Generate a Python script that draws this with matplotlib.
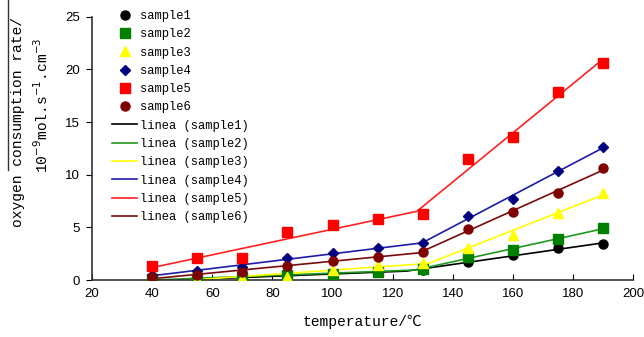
import matplotlib
matplotlib.use("Agg")
import matplotlib.pyplot as plt
from matplotlib.lines import Line2D
import numpy as np

# temperature (deg C) and oxygen consumption rate (1e-9 mol/s/cm3)
temps = [40, 55, 70, 85, 100, 115, 130, 145, 160, 175, 190]
sample1 = [0.05, 0.05, 0.1, 0.3, 0.6, 0.8, 0.95, 1.75, 2.4, 3.0, 3.4]
sample2 = [0.1, 0.1, 0.3, 0.5, 0.6, 0.8, 1.05, 2.2, 2.9, 3.9, 4.9]
sample3 = [0.0, 0.0, 0.2, 0.3, 1.0, 1.4, 1.6, 3.0, 4.3, 6.4, 8.3]
sample4 = [0.5, 0.9, 1.2, 2.1, 2.6, 3.0, 3.5, 6.1, 7.7, 10.4, 12.6]
sample5 = [1.3, 2.1, 2.1, 4.6, 5.2, 5.8, 6.3, 11.5, 13.6, 17.9, 20.6]
sample6 = [0.3, 0.5, 0.8, 1.3, 1.8, 2.2, 2.7, 4.85, 6.5, 8.3, 10.6]

names = ['sample1', 'sample2', 'sample3', 'sample4', 'sample5', 'sample6']
series = [sample1, sample2, sample3, sample4, sample5, sample6]
break_temp = 130

markers = ['o', 's', '^', 'D', 's', 'o']
marker_sizes = [6.5, 6.5, 7, 5, 7, 6.5]
marker_colors = ['#000000', '#008000', '#FFFF00', '#000080', '#FF0000', '#800000']
line_colors = ['#000000', '#1E9A1E', '#FFFF00', '#1C1CA8', '#FF2020', '#7A0A0A']

mono = ['Liberation Mono', 'DejaVu Sans Mono', 'Noto Sans CJK SC']

fig = plt.figure(figsize=(6.44, 3.37), dpi=100)
ax = fig.add_axes([0.143, 0.169, 0.840, 0.781])

t = np.array(temps, dtype=float)
pt_handles = []
ln_handles = []
for name, vals, m, ms, mc, lc in zip(names, series, markers, marker_sizes,
                                     marker_colors, line_colors):
    v = np.array(vals)
    # two linear trend segments, below and above the break temperature
    lo = t <= break_temp
    hi = t >= break_temp
    a1, b1 = np.polyfit(t[lo], v[lo], 1)
    a2, b2 = np.polyfit(t[hi], v[hi], 1)
    xk = (b2 - b1) / (a1 - a2)
    xs = np.array([t[0], xk, t[-1]])
    ys = np.array([a1 * xs[0] + b1, a1 * xk + b1, a2 * xs[2] + b2])
    ln, = ax.plot(xs, ys, color=lc, lw=1.2, zorder=2)
    pt, = ax.plot(t, v, linestyle='none', marker=m, markersize=ms,
                  color=mc, markeredgecolor=mc, zorder=3)
    pt_handles.append(pt)
    ln_handles.append(ln)

ax.set_xlim(20, 200)
ax.set_ylim(0, 25)
ax.set_xticks(np.arange(20, 201, 20))
ax.set_yticks(np.arange(0, 26, 5))
ax.spines['top'].set_visible(False)
ax.spines['right'].set_visible(False)
for s in ['left', 'bottom']:
    ax.spines[s].set_linewidth(1.2)
    ax.spines[s].set_color('#333333')
ax.tick_params(axis='x', direction='in', length=4, labelsize=9.5, pad=6)
ax.tick_params(axis='y', direction='out', length=4, labelsize=9.5, pad=5)
for lab in ax.get_xticklabels() + ax.get_yticklabels():
    lab.set_family('Liberation Sans')

ax.set_xlabel('temperature/℃', family=mono, fontsize=10.5, labelpad=10)

fig.text(0.028, 1 - 122 / 337, 'oxygen consumption rate/', rotation=90,
         family=mono, fontsize=10.5, ha='center', va='center')
fig.text(0.065, 1 - 105 / 337, r'10$^{-9}$mol.s$^{-1}$.cm$^{-3}$', rotation=90,
         family=mono, fontsize=10.5, ha='center', va='center')
fig.add_artist(Line2D([0.013, 0.013], [1 - 170 / 337, 1.0], color='#333333',
                      lw=1, transform=fig.transFigure))

labels = names + ['linea (%s)' % n for n in names]
leg = fig.legend(pt_handles + ln_handles, labels, loc='upper left',
                 bbox_to_anchor=(112 / 644, 1 - 10 / 337), frameon=False,
                 prop={'family': mono, 'size': 8.7}, handlelength=2.1,
                 handletextpad=0.2, labelspacing=0.52, borderpad=0,
                 borderaxespad=0)

fig.savefig('out.png', dpi=100)
